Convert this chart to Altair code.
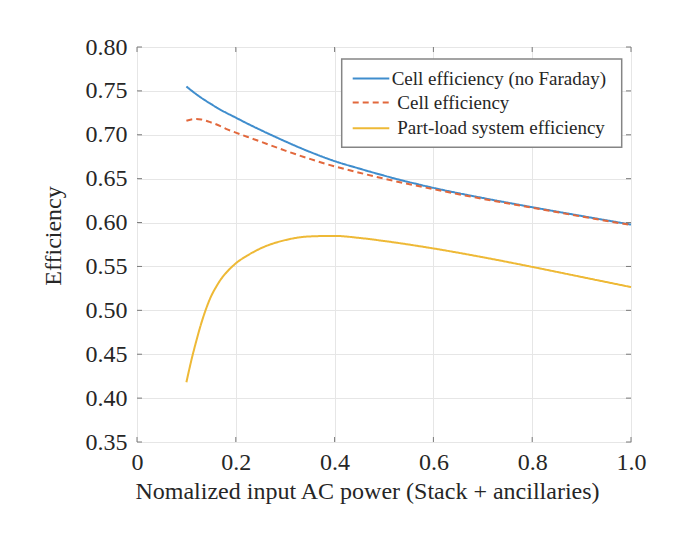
import altair as alt
import pandas as pd

# ---- data ----
x_vals = [0.10, 0.11, 0.12, 0.13, 0.14, 0.15, 0.16, 0.17, 0.18, 0.20, 0.225, 0.25,
          0.30, 0.35, 0.40, 0.45, 0.50, 0.60, 0.70, 0.80, 0.90, 1.00]
cell_eff_no_faraday = [0.755, 0.7505, 0.7462, 0.7422, 0.7385, 0.735, 0.7315, 0.7282,
                       0.7252, 0.7195, 0.7123, 0.7055, 0.6925, 0.6805, 0.670, 0.6615,
                       0.6535, 0.6395, 0.628, 0.6175, 0.6075, 0.5977]
cell_eff = [0.716, 0.7175, 0.718, 0.7175, 0.716, 0.714, 0.712, 0.7095, 0.7068,
            0.7025, 0.6973, 0.6922, 0.682, 0.6725, 0.664, 0.6568, 0.650, 0.638,
            0.627, 0.617, 0.6068, 0.5972]
system_eff = [0.418, 0.443, 0.465, 0.485, 0.502, 0.516, 0.5265, 0.5355, 0.5425,
              0.5535, 0.563, 0.5705, 0.580, 0.5842, 0.5848, 0.5825, 0.579, 0.5705,
              0.5605, 0.5495, 0.538, 0.5265]

series_names = ["Cell efficiency (no Faraday)", "Cell efficiency", "Part-load system efficiency"]
series_colors = ["#3f8dcd", "#e2683c", "#eeb936"]
series_dash = [[1, 0], [6, 4], [1, 0]]

x_ticks = [0, 0.2, 0.4, 0.6, 0.8, 1.0]
y_ticks = [0.35, 0.40, 0.45, 0.50, 0.55, 0.60, 0.65, 0.70, 0.75, 0.80]

W, H = 494, 395
FONT = "Liberation Serif"
TXT = "#262626"
AX = "#7a7a7a"

rows = []
for name, ys in zip(series_names, [cell_eff_no_faraday, cell_eff, system_eff]):
    for xv, yv in zip(x_vals, ys):
        rows.append({"x": xv, "eff": yv, "series": name})
df = pd.DataFrame(rows)

xs = alt.Scale(domain=[0, 1], nice=False, zero=False)
ys_ = alt.Scale(domain=[0.35, 0.80], nice=False, zero=False)

lines = alt.Chart(df).mark_line(strokeWidth=2, interpolate="monotone").encode(
    x=alt.X("x:Q", scale=xs, axis=alt.Axis(
        values=x_ticks, title="Nomalized input AC power (Stack + ancillaries)",
        labelExpr="datum.value == 0 ? '0' : format(datum.value, '.1f')",
        ticks=False, domain=False, grid=True, gridColor="#e6e6e6",
        labelFont=FONT, labelFontSize=24, labelColor=TXT, labelPadding=8,
        labelFlush=False, titleFont=FONT, titleFontSize=24, titleFontWeight="normal",
        titleColor=TXT, titlePadding=5, titleX=230)),
    y=alt.Y("eff:Q", scale=ys_, axis=alt.Axis(
        values=y_ticks, format=".2f", title="Efficiency",
        ticks=False, domain=False, grid=True, gridColor="#e6e6e6",
        labelFont=FONT, labelFontSize=24, labelColor=TXT, labelPadding=10,
        labelFlush=False, titleFont=FONT, titleFontSize=24, titleFontWeight="normal",
        titleColor=TXT, titlePadding=20, titleY=188.5)),
    color=alt.Color("series:N", scale=alt.Scale(domain=series_names, range=series_colors), legend=None),
    strokeDash=alt.StrokeDash("series:N", scale=alt.Scale(domain=series_names, range=series_dash), legend=None),
)

# inward ticks on all four sides (matlab style)
xt = pd.DataFrame({"x": x_ticks})
yt = pd.DataFrame({"eff": y_ticks})
tick_bottom = alt.Chart(xt).mark_rule(color=AX).encode(
    x=alt.X("x:Q", scale=xs), y=alt.value(H), y2=alt.value(H - 5))
tick_top = alt.Chart(xt).mark_rule(color=AX).encode(
    x=alt.X("x:Q", scale=xs), y=alt.value(0), y2=alt.value(5))
tick_left = alt.Chart(yt).mark_rule(color=AX).encode(
    y=alt.Y("eff:Q", scale=ys_), x=alt.value(0), x2=alt.value(5))
tick_right = alt.Chart(yt).mark_rule(color=AX).encode(
    y=alt.Y("eff:Q", scale=ys_), x=alt.value(W), x2=alt.value(W - 5))

# legend box
one = pd.DataFrame({"a": [0]})
legend_box = alt.Chart(one).mark_rect(fill="white", stroke="#858585", strokeWidth=1.5).encode(
    x=alt.value(204.7), x2=alt.value(484.7), y=alt.value(12), y2=alt.value(100.3))

legend_layers = []
row_y = [31.5, 55.5, 81.3]
text_x = [254.7, 260.3, 260.3]
for i, name in enumerate(series_names):
    d = pd.DataFrame({"label": [name]})
    legend_layers.append(
        alt.Chart(d).mark_rule(color=series_colors[i], strokeWidth=2,
                               strokeDash=series_dash[i]).encode(
            x=alt.value(215.7), x2=alt.value(252.3), y=alt.value(row_y[i])))
    legend_layers.append(
        alt.Chart(d).mark_text(align="left", baseline="middle", font=FONT,
                               fontSize=19, color=TXT).encode(
            x=alt.value(text_x[i]), y=alt.value(row_y[i]), text="label:N"))

chart = alt.layer(
    lines, tick_bottom, tick_top, tick_left, tick_right, legend_box, *legend_layers
).properties(
    width=W, height=H,
    autosize=alt.AutoSizeParams(type="none"),
    padding={"left": 129, "top": 39, "right": 40, "bottom": 80},
).configure_view(stroke=AX, strokeWidth=1).configure(background="white")

chart.save("out.html", embed_options={"renderer": "svg", "actions": False})
